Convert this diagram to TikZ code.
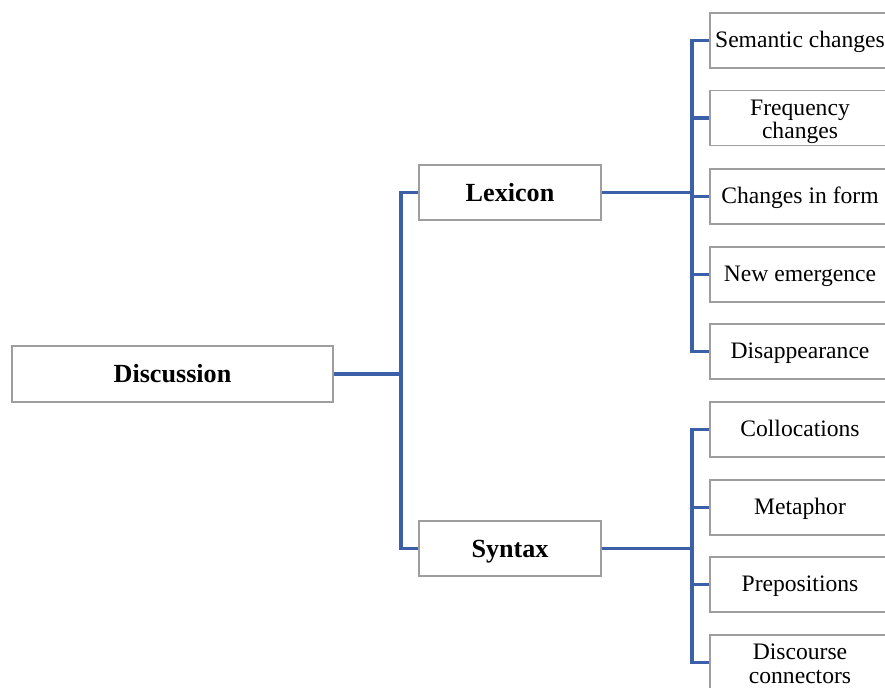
\documentclass[tikz,border=0pt]{standalone}
\usepackage{fontspec}
\setmainfont{Liberation Serif}
\newcommand{\twoline}[2]{\raisebox{-3.3pt}[\height][\depth]{\begin{tabular}{@{}c@{}}#1\\#2\end{tabular}}}
\begin{document}
\begin{tikzpicture}[x=0.75pt,y=-0.75pt,
  box/.style={draw=black!38,line width=1.1pt,fill=white,inner sep=0pt,align=center,
    font=\fontsize{17.7}{17.6}\selectfont},
  leaf/.style={box,minimum width=135pt,minimum height=41.25pt,text height=13.5pt,text depth=3.3pt},
  leaftwo/.style={box,minimum width=135pt,minimum height=41.25pt},
  mid/.style={box,minimum width=136.5pt,minimum height=41.25pt,font=\fontsize{19.6}{21}\selectfont\bfseries,
    text height=14pt,text depth=1.2pt},
  root/.style={box,minimum width=240.75pt,minimum height=42pt,font=\fontsize{19.6}{21}\selectfont\bfseries,
    text height=14pt,text depth=2pt},
  link/.style={draw={rgb,255:red,60;green,96;blue,168},line width=2.3pt}]
\useasboundingbox (0,0) rectangle (885,687);
\node[root] (disc) at (172.5,374) {Discussion};
\node[mid] (lex) at (510,192.5) {Lexicon};
\node[mid] (syn) at (510,548.5) {Syntax};
\node[leaf] (l1) at (800,40.5) {Semantic changes};
\node[leaftwo] (l2) at (800,118) {\twoline{Frequency}{changes}};
\node[leaf] (l3) at (800,196.5) {Changes in form};
\node[leaf] (l4) at (800,274.5) {New emergence};
\node[leaf] (l5) at (800,351.5) {Disappearance};
\node[leaf] (s1) at (800,429.5) {Collocations};
\node[leaf] (s2) at (800,507.5) {Metaphor};
\node[leaf] (s3) at (800,584.5) {Prepositions};
\node[leaftwo] (s4) at (800,662.5) {\twoline{Discourse}{connectors}};
% root links
\coordinate (jr) at (401,374);
\path[link] (disc.east) -- (jr);
\path[link] (lex.west) -| (jr);
\path[link] (syn.west) -| (jr);
% lexicon links
\coordinate (jl) at (692,192.5);
\path[link] (lex.east) -- (jl);
\foreach \n in {l1,l2,l3,l4,l5} \path[link] (\n.west) -| (jl);
% syntax links
\coordinate (js) at (692,548.5);
\path[link] (syn.east) -- (js);
\foreach \n in {s1,s2,s3,s4} \path[link] (\n.west) -| (js);
\end{tikzpicture}
\end{document}
